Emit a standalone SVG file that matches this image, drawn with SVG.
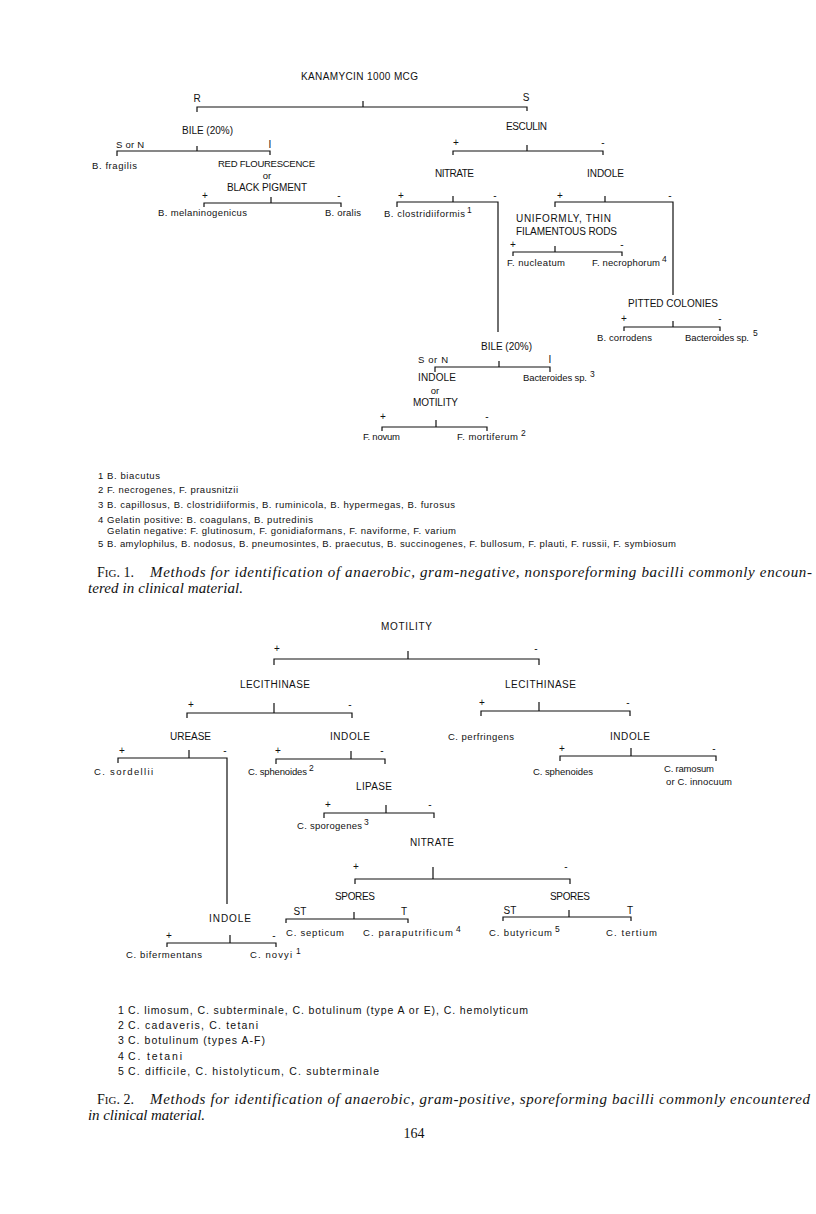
<svg xmlns="http://www.w3.org/2000/svg" width="816" height="1214" viewBox="0 0 816 1214">
<style>
text{fill:#111;font-family:"Liberation Sans",Arial,sans-serif}
.k{font-size:10px}
.k2{font-size:9.5px}
.m{font-size:9.5px}
.p{font-size:10px;text-anchor:middle}
.sp{font-size:8.5px}
.f1{font-size:9.5px}
.f2{font-size:10.5px}
.cap{font-family:"Liberation Serif","Times New Roman",serif;font-size:15px;font-style:italic}
.fig{font-family:"Liberation Serif","Times New Roman",serif;font-size:14px}
.sc{font-size:11px}
.c{text-anchor:middle}
#connectors path{fill:none;stroke:#111;stroke-width:1.2}
</style>
<rect width="816" height="1214" fill="#fff"/>
<g id="connectors">
<path d="M197 112V107H527V111M363 107V101"/>
<path d="M117 156V151H270V155M197 151V146"/>
<path d="M204 207V203H341V207M271 203V197"/>
<path d="M453 155V151H603V155M527 151V145"/>
<path d="M397 207V202H498V332M453 202V196"/>
<path d="M555 207V202H673V295M605 202V196"/>
<path d="M513 256V252H622V256M555 252V246"/>
<path d="M624 331V327H720V331M673 327V321"/>
<path d="M435 372V367H550V372M499 367V361"/>
<path d="M382 431V427H487V431M436 427V420"/>
<path d="M274 665V659H539V665M408 659V651"/>
<path d="M187 718V713H352V718M274 713V703"/>
<path d="M481 716V711H630V716M539 711V702"/>
<path d="M118 763V758H227V904M189 758V750"/>
<path d="M276 764V759H385V764M351 759V751"/>
<path d="M560 761V756H716V761M631 756V748"/>
<path d="M324 818V813H434V818M386 813V805"/>
<path d="M355 884V879H570V884M433 879V867"/>
<path d="M286 923V919H408V923M354 919V912"/>
<path d="M503 921V917H631V921M569 917V910"/>
<path d="M167 947V943H276V947M230 943V935"/>
</g>
<g id="branch-labels">
<text class="k c" x="197" y="102">R</text>
<text class="k c" x="526" y="101">S</text>
<text class="k2" x="116" y="148" textLength="28">S or N</text>
<text class="k c" x="270" y="148">I</text>
<text class="p" x="205" y="199">+</text><text class="p" x="339" y="199">-</text>
<text class="p" x="456" y="146">+</text><text class="p" x="603" y="146">-</text>
<text class="p" x="401" y="199">+</text><text class="p" x="495" y="199">-</text>
<text class="p" x="560" y="199">+</text><text class="p" x="670" y="199">-</text>
<text class="p" x="513" y="248">+</text><text class="p" x="622" y="248">-</text>
<text class="p" x="624" y="322">+</text><text class="p" x="720" y="322">-</text>
<text class="k2" x="418" y="363" textLength="30">S or N</text>
<text class="k c" x="550" y="363">I</text>
<text class="p" x="383" y="420">+</text><text class="p" x="487" y="420">-</text>
<text class="p" x="277" y="652">+</text><text class="p" x="536" y="652">-</text>
<text class="p" x="191" y="708">+</text><text class="p" x="350" y="708">-</text>
<text class="p" x="482" y="706">+</text><text class="p" x="628" y="706">-</text>
<text class="p" x="122" y="754">+</text><text class="p" x="225" y="754">-</text>
<text class="p" x="278" y="754">+</text><text class="p" x="382" y="754">-</text>
<text class="p" x="562" y="752">+</text><text class="p" x="714" y="752">-</text>
<text class="p" x="328" y="808">+</text><text class="p" x="430" y="808">-</text>
<text class="p" x="356" y="870">+</text><text class="p" x="566" y="870">-</text>
<text class="k c" x="300" y="915">ST</text><text class="k c" x="404" y="915">T</text>
<text class="k c" x="510" y="914">ST</text><text class="k c" x="630" y="914">T</text>
<text class="p" x="169" y="939">+</text><text class="p" x="274" y="939">-</text>
</g>
<g id="n-kanamycin"><text class="k" x="301" y="80" textLength="117">KANAMYCIN 1000 MCG</text></g>
<g id="n-bile1"><text class="k" x="182" y="134" textLength="51">BILE (20%)</text></g>
<g id="n-bfragilis"><text class="m" x="92" y="169" textLength="45">B. fragilis</text></g>
<g id="n-redfl"><text class="k2" x="218" y="167" textLength="97">RED FLOURESCENCE</text><text class="m c" x="267" y="179">or</text><text class="k" x="227" y="191" textLength="80">BLACK PIGMENT</text></g>
<g id="n-melan"><text class="m" x="158" y="216" textLength="89">B. melaninogenicus</text></g>
<g id="n-oralis"><text class="m" x="325" y="216" textLength="36">B. oralis</text></g>
<g id="n-esculin"><text class="k" x="506" y="130" textLength="41">ESCULIN</text></g>
<g id="n-nitrate1"><text class="k" x="435" y="177" textLength="39">NITRATE</text></g>
<g id="n-indole1"><text class="k" x="587" y="177" textLength="37">INDOLE</text></g>
<g id="n-bclost"><text class="m" x="384" y="217" textLength="81">B. clostridiiformis</text><text class="sp" x="467" y="213">1</text></g>
<g id="n-uniform"><text class="k" x="516" y="222" textLength="95">UNIFORMLY, THIN</text><text class="k" x="516" y="235" textLength="101">FILAMENTOUS RODS</text></g>
<g id="n-fnucl"><text class="m" x="507" y="266" textLength="58">F. nucleatum</text></g>
<g id="n-fnecro"><text class="m" x="592" y="266" textLength="68">F. necrophorum</text><text class="sp" x="662" y="262">4</text></g>
<g id="n-pitted"><text class="k" x="628" y="307" textLength="90">PITTED COLONIES</text></g>
<g id="n-bcorr"><text class="m" x="597" y="341" textLength="55">B. corrodens</text></g>
<g id="n-bact5"><text class="m" x="685" y="341" textLength="64">Bacteroides sp.</text><text class="sp" x="753" y="336">5</text></g>
<g id="n-bile2"><text class="k" x="481" y="350" textLength="51">BILE (20%)</text></g>
<g id="n-indmot"><text class="k" x="418" y="381" textLength="38">INDOLE</text><text class="m c" x="435" y="394">or</text><text class="k" x="413" y="406" textLength="45">MOTILITY</text></g>
<g id="n-bact3"><text class="m" x="523" y="381" textLength="64">Bacteroides sp.</text><text class="sp" x="590" y="377">3</text></g>
<g id="n-fnovum"><text class="m" x="363" y="440" textLength="37">F. novum</text></g>
<g id="n-fmort"><text class="m" x="457" y="440" textLength="61">F. mortiferum</text><text class="sp" x="521" y="436">2</text></g>
<g id="fig1-notes">
<text class="f1" x="98" y="479">1</text><text class="f1" x="107" y="479" textLength="53">B. biacutus</text>
<text class="f1" x="98" y="493">2</text><text class="f1" x="107" y="493" textLength="131">F. necrogenes, F. prausnitzii</text>
<text class="f1" x="98" y="508">3</text><text class="f1" x="107" y="508" textLength="348">B. capillosus, B. clostridiiformis, B. ruminicola, B. hypermegas, B. furosus</text>
<text class="f1" x="98" y="523">4</text><text class="f1" x="107" y="523" textLength="206">Gelatin positive: B. coagulans, B. putredinis</text>
<text class="f1" x="107" y="534" textLength="349">Gelatin negative:  F. glutinosum, F.  gonidiaformans, F. naviforme, F. varium</text>
<text class="f1" x="98" y="547">5</text><text class="f1" x="107" y="547" textLength="569">B. amylophilus, B. nodosus, B. pneumosintes, B. praecutus, B. succinogenes, F. bullosum, F. plauti, F. russii, F. symbiosum</text>
</g>
<g id="fig1-caption">
<text class="fig" x="97" y="577">F<tspan class="sc">IG</tspan>. 1.</text>
<text class="cap" x="150" y="577" textLength="662">Methods for identification of anaerobic, gram-negative, nonsporeforming bacilli commonly encoun-</text>
<text class="cap" x="88" y="593" textLength="155">tered in clinical material.</text>
</g>
<g id="n-motility"><text class="k" x="381" y="630" textLength="51">MOTILITY</text></g>
<g id="n-lec1"><text class="k" x="240" y="688" textLength="70">LECITHINASE</text></g>
<g id="n-lec2"><text class="k" x="505" y="688" textLength="71">LECITHINASE</text></g>
<g id="n-urease"><text class="k" x="170" y="740" textLength="41">UREASE</text></g>
<g id="n-indole2"><text class="k" x="330" y="740" textLength="40">INDOLE</text></g>
<g id="n-perfr"><text class="m" x="448" y="740" textLength="66">C. perfringens</text></g>
<g id="n-indole3"><text class="k" x="610" y="740" textLength="40">INDOLE</text></g>
<g id="n-sordellii"><text class="m" x="94" y="775" textLength="59">C. sordellii</text></g>
<g id="n-spheno1"><text class="m" x="248" y="775" textLength="59">C. sphenoides</text><text class="sp" x="309" y="771">2</text></g>
<g id="n-spheno2"><text class="m" x="533" y="775" textLength="60">C. sphenoides</text></g>
<g id="n-ramosum"><text class="m" x="664" y="772" textLength="50">C. ramosum</text><text class="m" x="666" y="785" textLength="66">or C. innocuum</text></g>
<g id="n-lipase"><text class="k" x="356" y="790" textLength="36">LIPASE</text></g>
<g id="n-sporog"><text class="m" x="297" y="829" textLength="65">C. sporogenes</text><text class="sp" x="364" y="825">3</text></g>
<g id="n-nitrate2"><text class="k" x="410" y="846" textLength="44">NITRATE</text></g>
<g id="n-spores1"><text class="k" x="335" y="900" textLength="40">SPORES</text></g>
<g id="n-spores2"><text class="k" x="550" y="900" textLength="40">SPORES</text></g>
<g id="n-indole4"><text class="k" x="209" y="922" textLength="42">INDOLE</text></g>
<g id="n-septicum"><text class="m" x="286" y="936" textLength="58">C. septicum</text></g>
<g id="n-paraput"><text class="m" x="363" y="936" textLength="90">C. paraputrificum</text><text class="sp" x="456" y="932">4</text></g>
<g id="n-butyr"><text class="m" x="489" y="936" textLength="63">C. butyricum</text><text class="sp" x="555" y="932">5</text></g>
<g id="n-tertium"><text class="m" x="606" y="936" textLength="51">C. tertium</text></g>
<g id="n-biferm"><text class="m" x="126" y="958" textLength="76">C. bifermentans</text></g>
<g id="n-novyi"><text class="m" x="250" y="958" textLength="42">C. novyi</text><text class="sp" x="296" y="954">1</text></g>
<g id="fig2-notes">
<text class="f2" x="118" y="1014">1</text><text class="f2" x="128" y="1014" textLength="400">C. limosum, C. subterminale, C. botulinum (type A or E), C. hemolyticum</text>
<text class="f2" x="118" y="1029">2</text><text class="f2" x="128" y="1029" textLength="130">C. cadaveris, C. tetani</text>
<text class="f2" x="118" y="1044">3</text><text class="f2" x="128" y="1044" textLength="137">C. botulinum (types A-F)</text>
<text class="f2" x="118" y="1060">4</text><text class="f2" x="128" y="1060" textLength="54">C. tetani</text>
<text class="f2" x="118" y="1075">5</text><text class="f2" x="128" y="1075" textLength="251">C. difficile, C. histolyticum, C. subterminale</text>
</g>
<g id="fig2-caption">
<text class="fig" x="97" y="1104">F<tspan class="sc">IG</tspan>. 2.</text>
<text class="cap" x="150" y="1104" textLength="660">Methods for identification of anaerobic, gram-positive, sporeforming bacilli commonly encountered</text>
<text class="cap" x="88" y="1120" textLength="117">in clinical material.</text>
</g>
<g id="page-number"><text class="fig c" x="414" y="1138">164</text></g>
</svg>
